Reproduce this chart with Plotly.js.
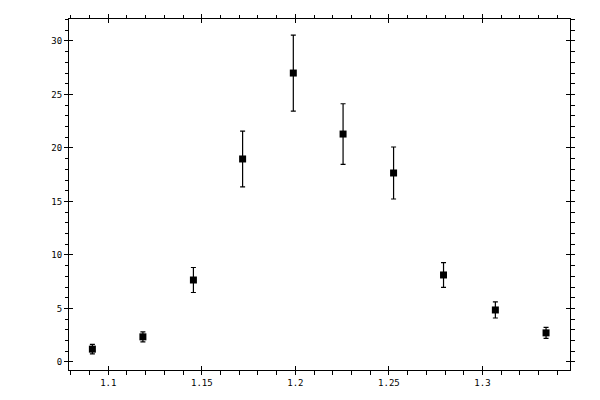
<!DOCTYPE html>
<html>
<head>
<meta charset="utf-8">
<script src="https://cdn.plot.ly/plotly-3.0.1.min.js"></script>
<style>html,body{margin:0;padding:0;background:#fff;}#chart{width:600px;height:400px;}</style>
</head>
<body>
<div id="chart"></div>
<script>
const xValues = [1.0915, 1.1185, 1.1455, 1.1718, 1.1989, 1.2255, 1.2525, 1.2792, 1.3069, 1.3340];
const yValues = [1.2, 2.35, 7.66, 18.97, 27.0, 21.3, 17.66, 8.13, 4.86, 2.72];
const yErrors = [0.45, 0.47, 1.17, 2.6, 3.55, 2.83, 2.43, 1.16, 0.75, 0.52];

const xRange = [1.079, 1.3468];
const yRange = [-0.75, 32.05];

const font = {family: 'DejaVu Sans Mono, monospace', size: 9, color: '#000'};

const trace = {
  x: xValues, y: yValues, type: 'scatter', mode: 'markers',
  marker: {symbol: 'square', size: 7, color: '#000'},
  error_y: {type: 'data', array: yErrors, visible: true, color: '#000', thickness: 1.2, width: 2.5},
  showlegend: false, hoverinfo: 'none'
};
const dummy = {x: [], y: [], xaxis: 'x2', yaxis: 'y2', type: 'scatter', showlegend: false};

const baseAxis = {
  showgrid: false, zeroline: false, showline: true, linecolor: '#000', linewidth: 1,
  mirror: 'allticks', ticks: 'outside', ticklen: 4, tickwidth: 1, tickcolor: '#000',
  tickfont: font
};

const layout = {
  width: 600, height: 400,
  margin: {l: 69, r: 30, t: 19, b: 30, pad: 0},
  paper_bgcolor: '#fff', plot_bgcolor: '#fff',
  font: font,
  xaxis: Object.assign({}, baseAxis, {
    range: xRange, tickmode: 'linear', tick0: 1.1, dtick: 0.05,
    minor: {dtick: 0.01, tick0: 1.1, ticks: 'outside', ticklen: 3.5, tickwidth: 1, tickcolor: '#000', showgrid: false}
  }),
  yaxis: Object.assign({}, baseAxis, {
    range: yRange, tickmode: 'linear', tick0: 0, dtick: 5,
    minor: {dtick: 1, tick0: 0, ticks: 'outside', ticklen: 3.5, tickwidth: 1, tickcolor: '#000', showgrid: false}
  }),
  xaxis2: {overlaying: 'x', range: xRange, tickmode: 'linear', tick0: 1.1, dtick: 0.05,
    ticks: 'inside', ticklen: 4, tickwidth: 1, tickcolor: '#000', showticklabels: false,
    showgrid: false, zeroline: false, showline: false, mirror: 'allticks', anchor: 'y2'},
  yaxis2: {overlaying: 'y', range: yRange, tickmode: 'linear', tick0: 0, dtick: 5,
    ticks: 'inside', ticklen: 4, tickwidth: 1, tickcolor: '#000', showticklabels: false,
    showgrid: false, zeroline: false, showline: false, mirror: 'allticks', anchor: 'x2'}
};

Plotly.newPlot('chart', [trace, dummy], layout, {staticPlot: true, displayModeBar: false});
</script>
</body>
</html>
